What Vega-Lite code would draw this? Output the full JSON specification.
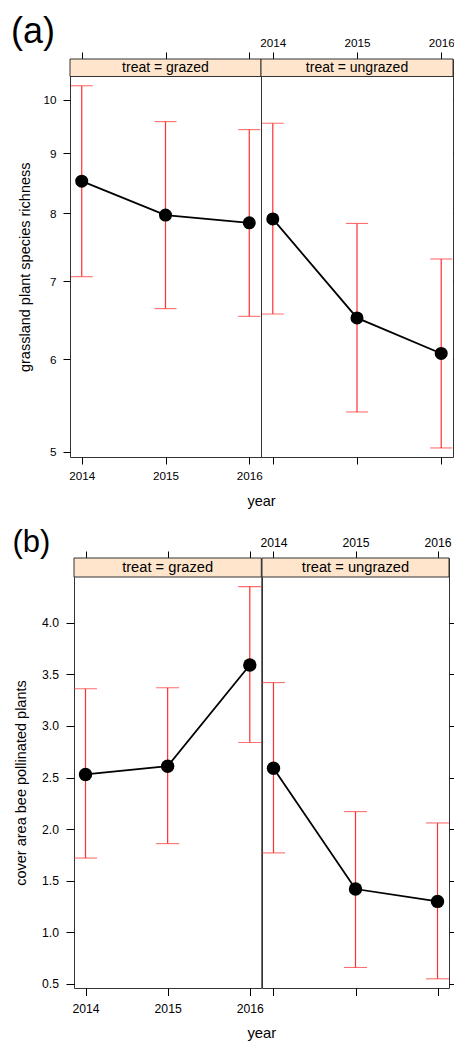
{
"$schema": "https://vega.github.io/schema/vega-lite/v6.json",
"padding": {"left": 11, "top": 13, "right": 0, "bottom": 0},
"datasets": {
"aG": [
{"year":2014,"mean":8.52,"lo":7.06,"hi":10.28},
{"year":2015,"mean":7.97,"lo":6.63,"hi":9.58},
{"year":2016,"mean":7.85,"lo":6.53,"hi":9.43}
],
"aU": [
{"year":2014,"mean":7.91,"lo":6.56,"hi":9.55},
{"year":2015,"mean":6.51,"lo":5.41,"hi":7.84},
{"year":2016,"mean":6.07,"lo":5.04,"hi":7.31}
],
"bG": [
{"year":2014,"mean":2.53,"lo":1.72,"hi":3.36},
{"year":2015,"mean":2.61,"lo":1.86,"hi":3.37},
{"year":2016,"mean":3.59,"lo":2.84,"hi":4.35}
],
"bU": [
{"year":2014,"mean":2.59,"lo":1.77,"hi":3.42},
{"year":2015,"mean":1.42,"lo":0.66,"hi":2.17},
{"year":2016,"mean":1.30,"lo":0.55,"hi":2.06}
]
},
"vconcat": [
{
"title": {"text": "(a)", "anchor": "start", "frame": "group", "fontSize": 36, "dx": -59, "dy": 42, "offset": 0, "baseline": "alphabetic"},
"spacing": 0,
"bounds": "flush",
"hconcat": [
{
"width": 191, "height": 398,
"layer": [
{"data": {"name": "aG"}, "mark": {"type": "rule", "color": "#ff3030", "strokeWidth": 1.2, "clip": true},
"encoding": {
"x": {"field": "year", "type": "quantitative", "scale": {"domain": [2013.86, 2016.14], "nice": false, "zero": false},
"axis": {"orient": "bottom", "values": [2014, 2015, 2016], "format": "d", "title": "year", "titleX": 191, "titleAlign": "center", "labelFontSize": 11.7, "titleFontSize": 14.5, "tickSize": 7, "labelPadding": 6.5, "titlePadding": 12.3}},
"y": {"field": "lo", "type": "quantitative", "scale": {"type": "log", "domain": [4.951, 10.469], "range": [398, 17.5], "nice": false},
"axis": {"orient": "left", "values": [5, 6, 7, 8, 9, 10], "format": "d", "title": "grassland plant species richness", "labelFontSize": 11.7, "titleFontSize": 14.5, "tickSize": 7, "labelPadding": 7, "titlePadding": 10}},
"y2": {"field": "hi"}
}},
{"data": {"name": "aG"}, "mark": {"type": "tick", "orient": "horizontal", "size": 22, "thickness": 1.1, "color": "#ff3030", "clip": true},
"encoding": {"x": {"field": "year", "type": "quantitative", "axis": null}, "y": {"field": "lo", "type": "quantitative", "scale": {"type": "log", "domain": [4.951, 10.469], "range": [398, 17.5], "nice": false}, "axis": null}}},
{"data": {"name": "aG"}, "mark": {"type": "tick", "orient": "horizontal", "size": 22, "thickness": 1.1, "color": "#ff3030", "clip": true},
"encoding": {"x": {"field": "year", "type": "quantitative", "axis": null}, "y": {"field": "hi", "type": "quantitative", "scale": {"type": "log", "domain": [4.951, 10.469], "range": [398, 17.5], "nice": false}, "axis": null}}},
{"data": {"name": "aG"}, "mark": {"type": "line", "color": "black", "strokeWidth": 1.8},
"encoding": {"x": {"field": "year", "type": "quantitative", "axis": null}, "y": {"field": "mean", "type": "quantitative", "scale": {"type": "log", "domain": [4.951, 10.469], "range": [398, 17.5], "nice": false}, "axis": null}}},
{"data": {"name": "aG"}, "mark": {"type": "point", "filled": true, "color": "black", "opacity": 1, "size": 170},
"encoding": {"x": {"field": "year", "type": "quantitative", "axis": {"orient": "top", "values": [2014, 2015, 2016], "labels": false, "title": null, "tickSize": 7}}, "y": {"field": "mean", "type": "quantitative", "scale": {"type": "log", "domain": [4.951, 10.469], "range": [398, 17.5], "nice": false}, "axis": null}}},
{"data": {"values": [{"label": "treat = grazed"}]}, "mark": {"type": "rect", "fill": "#ffe5cc", "stroke": "#333", "strokeWidth": 1},
"encoding": {"x": {"datum": 2013.86, "type": "quantitative", "axis": null}, "x2": {"datum": 2016.14},
"y": {"datum": 0, "type": "quantitative", "scale": {"domain": [0, 1], "range": [0, 17.5], "nice": false, "zero": false}, "axis": null}, "y2": {"datum": 1}}},
{"data": {"values": [{"label": "treat = grazed"}]}, "mark": {"type": "text", "fontSize": 14, "baseline": "middle", "align": "center"},
"encoding": {"x": {"datum": 2015, "type": "quantitative", "axis": null}, "y": {"datum": 0.5, "type": "quantitative", "scale": {"domain": [0, 1], "range": [0, 17.5], "nice": false, "zero": false}, "axis": null}, "text": {"field": "label"}}}
],
"resolve": {"scale": {"y": "independent"}, "axis": {"x": "independent", "y": "independent"}}
},
{
"width": 192, "height": 398,
"layer": [
{"data": {"name": "aU"}, "mark": {"type": "rule", "color": "#ff3030", "strokeWidth": 1.2, "clip": true},
"encoding": {
"x": {"field": "year", "type": "quantitative", "scale": {"domain": [2013.86, 2016.14], "nice": false, "zero": false},
"axis": {"orient": "bottom", "values": [2014, 2015, 2016], "labels": false, "title": null, "tickSize": 7}},
"y": {"field": "lo", "type": "quantitative", "scale": {"type": "log", "domain": [4.951, 10.469], "range": [398, 17.5], "nice": false},
"axis": {"orient": "right", "values": [5, 6, 7, 8, 9, 10], "labels": false, "title": null, "tickSize": 7}},
"y2": {"field": "hi"}
}},
{"data": {"name": "aU"}, "mark": {"type": "tick", "orient": "horizontal", "size": 22, "thickness": 1.1, "color": "#ff3030", "clip": true},
"encoding": {"x": {"field": "year", "type": "quantitative", "axis": null}, "y": {"field": "lo", "type": "quantitative", "scale": {"type": "log", "domain": [4.951, 10.469], "range": [398, 17.5], "nice": false}, "axis": null}}},
{"data": {"name": "aU"}, "mark": {"type": "tick", "orient": "horizontal", "size": 22, "thickness": 1.1, "color": "#ff3030", "clip": true},
"encoding": {"x": {"field": "year", "type": "quantitative", "axis": null}, "y": {"field": "hi", "type": "quantitative", "scale": {"type": "log", "domain": [4.951, 10.469], "range": [398, 17.5], "nice": false}, "axis": null}}},
{"data": {"name": "aU"}, "mark": {"type": "line", "color": "black", "strokeWidth": 1.8},
"encoding": {"x": {"field": "year", "type": "quantitative", "axis": null}, "y": {"field": "mean", "type": "quantitative", "scale": {"type": "log", "domain": [4.951, 10.469], "range": [398, 17.5], "nice": false}, "axis": null}}},
{"data": {"name": "aU"}, "mark": {"type": "point", "filled": true, "color": "black", "opacity": 1, "size": 170},
"encoding": {"x": {"field": "year", "type": "quantitative", "axis": {"orient": "top", "values": [2014, 2015, 2016], "format": "d", "labelFontSize": 11.7, "labelPadding": 4, "title": null, "tickSize": 7}}, "y": {"field": "mean", "type": "quantitative", "scale": {"type": "log", "domain": [4.951, 10.469], "range": [398, 17.5], "nice": false}, "axis": null}}},
{"data": {"values": [{"label": "treat = ungrazed"}]}, "mark": {"type": "rect", "fill": "#ffe5cc", "stroke": "#333", "strokeWidth": 1},
"encoding": {"x": {"datum": 2013.86, "type": "quantitative", "axis": null}, "x2": {"datum": 2016.14},
"y": {"datum": 0, "type": "quantitative", "scale": {"domain": [0, 1], "range": [0, 17.5], "nice": false, "zero": false}, "axis": null}, "y2": {"datum": 1}}},
{"data": {"values": [{"label": "treat = ungrazed"}]}, "mark": {"type": "text", "fontSize": 14, "baseline": "middle", "align": "center"},
"encoding": {"x": {"datum": 2015, "type": "quantitative", "axis": null}, "y": {"datum": 0.5, "type": "quantitative", "scale": {"domain": [0, 1], "range": [0, 17.5], "nice": false, "zero": false}, "axis": null}, "text": {"field": "label"}}}
],
"resolve": {"scale": {"y": "independent"}, "axis": {"x": "independent", "y": "independent"}}
}
]
},
{
"title": {"text": "(b)", "anchor": "start", "frame": "group", "fontSize": 31, "dx": -57.5, "dy": 47, "offset": 0, "baseline": "alphabetic"},
"spacing": 0,
"bounds": "flush",
"hconcat": [
{
"width": 4, "height": 430,
"view": {"stroke": null},
"data": {"values": [{"label": ""}]},
"mark": {"type": "text"},
"encoding": {"text": {"field": "label"}}
},
{
"width": 187.3, "height": 430,
"layer": [
{"data": {"name": "bG"}, "mark": {"type": "rule", "color": "#ff3030", "strokeWidth": 1.2, "clip": true},
"encoding": {
"x": {"field": "year", "type": "quantitative", "scale": {"domain": [2013.86, 2016.14], "nice": false, "zero": false},
"axis": {"orient": "bottom", "values": [2014, 2015, 2016], "format": "d", "title": "year", "titleX": 187.3, "titleAlign": "center", "labelFontSize": 12.2, "titleFontSize": 14.8, "tickSize": 7.5, "labelPadding": 7, "titlePadding": 11}},
"y": {"field": "lo", "type": "quantitative", "scale": {"domain": [0.461, 4.443], "range": [430, 19], "nice": false, "zero": false},
"axis": {"orient": "left", "values": [0.5, 1, 1.5, 2, 2.5, 3, 3.5, 4], "format": ".1f", "title": "cover area bee pollinated plants", "labelFontSize": 12.2, "titleFontSize": 14.5, "tickSize": 8, "labelPadding": 7.5, "titlePadding": 13.5}},
"y2": {"field": "hi"}
}},
{"data": {"name": "bG"}, "mark": {"type": "tick", "orient": "horizontal", "size": 23, "thickness": 1.1, "color": "#ff3030", "clip": true},
"encoding": {"x": {"field": "year", "type": "quantitative", "axis": null}, "y": {"field": "lo", "type": "quantitative", "scale": {"domain": [0.461, 4.443], "range": [430, 19], "nice": false, "zero": false}, "axis": null}}},
{"data": {"name": "bG"}, "mark": {"type": "tick", "orient": "horizontal", "size": 23, "thickness": 1.1, "color": "#ff3030", "clip": true},
"encoding": {"x": {"field": "year", "type": "quantitative", "axis": null}, "y": {"field": "hi", "type": "quantitative", "scale": {"domain": [0.461, 4.443], "range": [430, 19], "nice": false, "zero": false}, "axis": null}}},
{"data": {"name": "bG"}, "mark": {"type": "line", "color": "black", "strokeWidth": 1.8},
"encoding": {"x": {"field": "year", "type": "quantitative", "axis": null}, "y": {"field": "mean", "type": "quantitative", "scale": {"domain": [0.461, 4.443], "range": [430, 19], "nice": false, "zero": false}, "axis": null}}},
{"data": {"name": "bG"}, "mark": {"type": "point", "filled": true, "color": "black", "opacity": 1, "size": 180},
"encoding": {"x": {"field": "year", "type": "quantitative", "axis": {"orient": "top", "values": [2014, 2015, 2016], "labels": false, "title": null, "tickSize": 7}}, "y": {"field": "mean", "type": "quantitative", "scale": {"domain": [0.461, 4.443], "range": [430, 19], "nice": false, "zero": false}, "axis": null}}},
{"data": {"values": [{"label": "treat = grazed"}]}, "mark": {"type": "rect", "fill": "#ffe5cc", "stroke": "#333", "strokeWidth": 1},
"encoding": {"x": {"datum": 2013.86, "type": "quantitative", "axis": null}, "x2": {"datum": 2016.14},
"y": {"datum": 0, "type": "quantitative", "scale": {"domain": [0, 1], "range": [0, 19], "nice": false, "zero": false}, "axis": null}, "y2": {"datum": 1}}},
{"data": {"values": [{"label": "treat = grazed"}]}, "mark": {"type": "text", "fontSize": 14.7, "baseline": "middle", "align": "center"},
"encoding": {"x": {"datum": 2015, "type": "quantitative", "axis": null}, "y": {"datum": 0.5, "type": "quantitative", "scale": {"domain": [0, 1], "range": [0, 19], "nice": false, "zero": false}, "axis": null}, "text": {"field": "label"}}}
],
"resolve": {"scale": {"y": "independent"}, "axis": {"x": "independent", "y": "independent"}}
},
{
"width": 187, "height": 430,
"layer": [
{"data": {"name": "bU"}, "mark": {"type": "rule", "color": "#ff3030", "strokeWidth": 1.2, "clip": true},
"encoding": {
"x": {"field": "year", "type": "quantitative", "scale": {"domain": [2013.86, 2016.14], "nice": false, "zero": false},
"axis": {"orient": "bottom", "values": [2014, 2015, 2016], "labels": false, "title": null, "tickSize": 7.5}},
"y": {"field": "lo", "type": "quantitative", "scale": {"domain": [0.461, 4.443], "range": [430, 19], "nice": false, "zero": false},
"axis": {"orient": "right", "values": [0.5, 1, 1.5, 2, 2.5, 3, 3.5, 4], "labels": false, "title": null, "tickSize": 8}},
"y2": {"field": "hi"}
}},
{"data": {"name": "bU"}, "mark": {"type": "tick", "orient": "horizontal", "size": 23, "thickness": 1.1, "color": "#ff3030", "clip": true},
"encoding": {"x": {"field": "year", "type": "quantitative", "axis": null}, "y": {"field": "lo", "type": "quantitative", "scale": {"domain": [0.461, 4.443], "range": [430, 19], "nice": false, "zero": false}, "axis": null}}},
{"data": {"name": "bU"}, "mark": {"type": "tick", "orient": "horizontal", "size": 23, "thickness": 1.1, "color": "#ff3030", "clip": true},
"encoding": {"x": {"field": "year", "type": "quantitative", "axis": null}, "y": {"field": "hi", "type": "quantitative", "scale": {"domain": [0.461, 4.443], "range": [430, 19], "nice": false, "zero": false}, "axis": null}}},
{"data": {"name": "bU"}, "mark": {"type": "line", "color": "black", "strokeWidth": 1.8},
"encoding": {"x": {"field": "year", "type": "quantitative", "axis": null}, "y": {"field": "mean", "type": "quantitative", "scale": {"domain": [0.461, 4.443], "range": [430, 19], "nice": false, "zero": false}, "axis": null}}},
{"data": {"name": "bU"}, "mark": {"type": "point", "filled": true, "color": "black", "opacity": 1, "size": 180},
"encoding": {"x": {"field": "year", "type": "quantitative", "axis": {"orient": "top", "values": [2014, 2015, 2016], "format": "d", "labelFontSize": 12.2, "labelPadding": 2, "title": null, "tickSize": 7}}, "y": {"field": "mean", "type": "quantitative", "scale": {"domain": [0.461, 4.443], "range": [430, 19], "nice": false, "zero": false}, "axis": null}}},
{"data": {"values": [{"label": "treat = ungrazed"}]}, "mark": {"type": "rect", "fill": "#ffe5cc", "stroke": "#333", "strokeWidth": 1},
"encoding": {"x": {"datum": 2013.86, "type": "quantitative", "axis": null}, "x2": {"datum": 2016.14},
"y": {"datum": 0, "type": "quantitative", "scale": {"domain": [0, 1], "range": [0, 19], "nice": false, "zero": false}, "axis": null}, "y2": {"datum": 1}}},
{"data": {"values": [{"label": "treat = ungrazed"}]}, "mark": {"type": "text", "fontSize": 14.7, "baseline": "middle", "align": "center"},
"encoding": {"x": {"datum": 2015, "type": "quantitative", "axis": null}, "y": {"datum": 0.5, "type": "quantitative", "scale": {"domain": [0, 1], "range": [0, 19], "nice": false, "zero": false}, "axis": null}, "text": {"field": "label"}}}
],
"resolve": {"scale": {"y": "independent"}, "axis": {"x": "independent", "y": "independent"}}
}
]
}
],
"spacing": 17,
"config": {
"font": "Liberation Sans",
"view": {"stroke": "#333", "strokeWidth": 1},
"axis": {"domain": false, "grid": false, "tickColor": "black", "labelColor": "black", "titleColor": "black", "labelFont": "Liberation Sans", "titleFont": "Liberation Sans", "titleFontWeight": "normal"},
"title": {"font": "Liberation Sans", "fontWeight": "normal", "color": "black"},
"text": {"font": "Liberation Sans", "color": "black"}
}
}
